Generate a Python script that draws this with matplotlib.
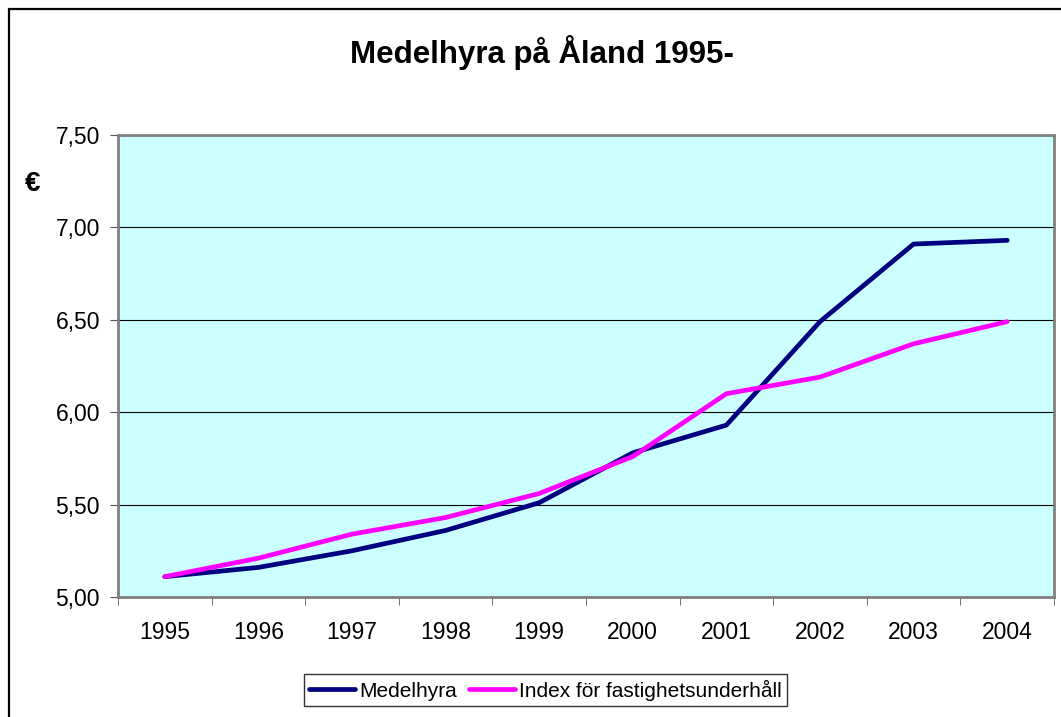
import matplotlib.pyplot as plt
from matplotlib.patches import Rectangle

plt.rcParams['font.family'] = ['Liberation Sans', 'DejaVu Sans']

years = ['1995', '1996', '1997', '1998', '1999', '2000', '2001', '2002', '2003', '2004']
medelhyra = [5.11, 5.16, 5.25, 5.36, 5.51, 5.78, 5.93, 6.49, 6.91, 6.93]
index_fu = [5.11, 5.21, 5.34, 5.43, 5.56, 5.76, 6.10, 6.19, 6.37, 6.49]
yticks = [5.0, 5.5, 6.0, 6.5, 7.0, 7.5]
ylabels = ['5,00', '5,50', '6,00', '6,50', '7,00', '7,50']

fig = plt.figure(figsize=(10.61, 7.17), dpi=100)
# chart frame, only left and top edges are visible in the picture
fig.patches.append(Rectangle((0.0085, -0.05), 1.1, 1.037, transform=fig.transFigure,
                             fill=False, edgecolor='black', linewidth=1.6))

ax = fig.add_axes([0.1112, 0.1674, 0.8822, 0.6443])
ax.set_facecolor('#CCFFFF')

x = list(range(len(years)))
ax.plot(x, medelhyra, color='#000080', linewidth=3.4, label='Medelhyra', solid_capstyle='round')
ax.plot(x, index_fu, color='#FF00FF', linewidth=3.4, label='Index för fastighetsunderhåll',
        solid_capstyle='round')

ax.set_xlim(-0.5, len(years) - 0.5)
ax.set_ylim(5.0, 7.5)
ax.set_yticks(yticks)
ax.set_yticklabels(ylabels)
ax.set_xticks(x)
ax.set_xticklabels(years)
ax.set_xticks([i - 0.5 for i in range(len(years) + 1)], minor=True)
ax.tick_params(axis='x', which='major', length=0, pad=17, labelsize=16.5)
ax.tick_params(axis='x', which='minor', length=6, direction='out', color='#555555')
ax.tick_params(axis='y', length=6, direction='out', labelsize=16.5, pad=7, color='#555555')
ax.grid(axis='y', color='black', linewidth=0.8)
ax.set_axisbelow(True)

for s in ax.spines.values():
    s.set_color('#808080')
    s.set_linewidth(2)

fig.text(0.511, 0.927, 'Medelhyra på Åland 1995-', ha='center', va='center',
         fontsize=22.5, fontweight='bold')
fig.text(0.031, 0.743, '€', ha='center', va='center', fontsize=20, fontweight='bold')

leg = ax.legend(loc='center', bbox_to_anchor=(0.514, 0.0377), bbox_transform=fig.transFigure,
                ncol=2, frameon=True, fancybox=False, fontsize=15, handlelength=2.2,
                columnspacing=0.6, handletextpad=0.2, borderpad=0.25, borderaxespad=0,
                edgecolor='black')
leg.get_frame().set_linewidth(1)

fig.savefig('out.png', dpi=100)
